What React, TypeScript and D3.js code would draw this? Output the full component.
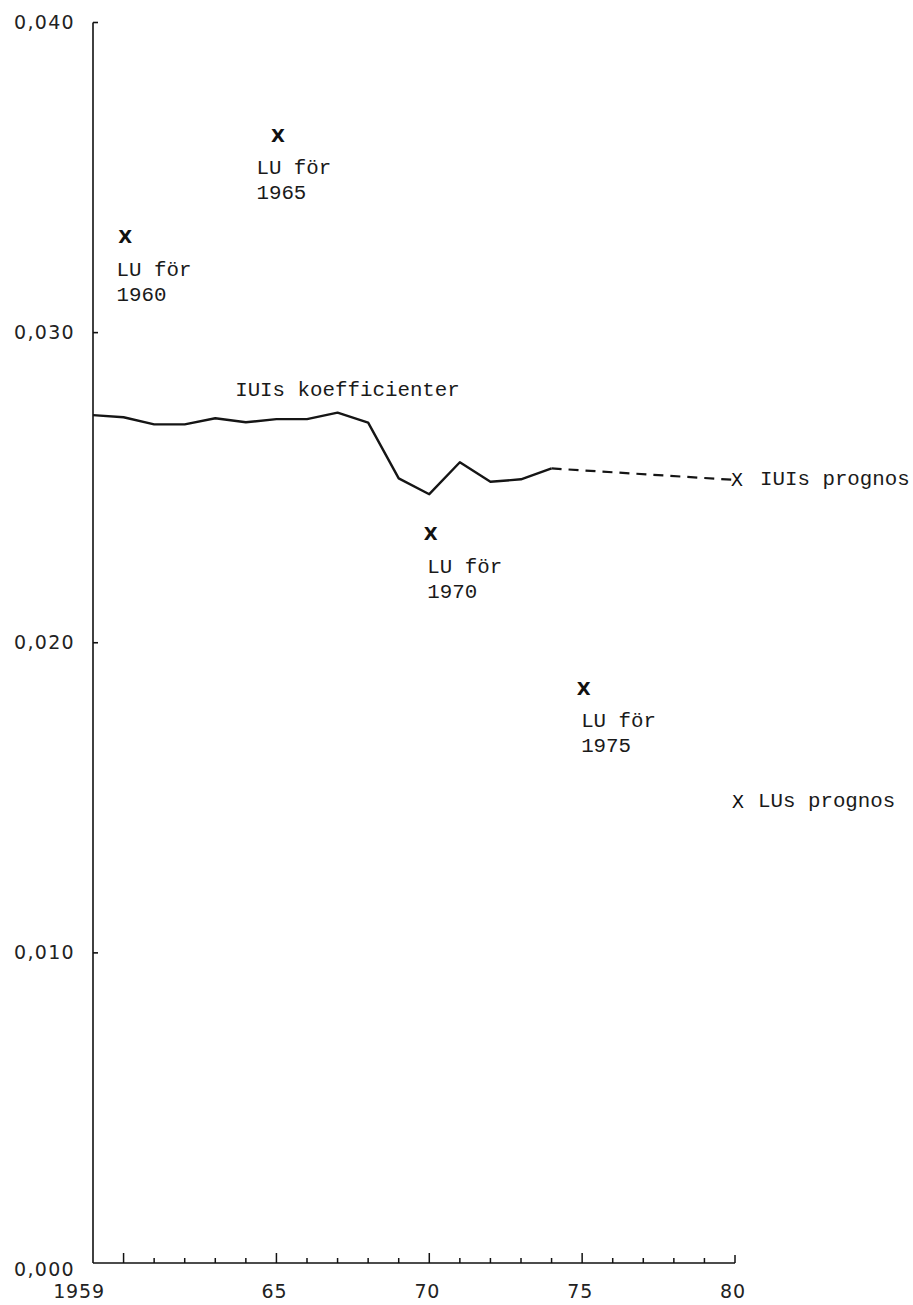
import React from "react";
import * as d3 from "d3";

// IUI coefficients (solid line), 1959-1974
const iuiYears = [1959, 1960, 1961, 1962, 1963, 1964, 1965, 1966, 1967, 1968, 1969, 1970, 1971, 1972, 1973, 1974];
const iuiValues = [0.02734, 0.02727, 0.02704, 0.02704, 0.02724, 0.02711, 0.02721, 0.02721, 0.02742, 0.0271, 0.0253, 0.02479, 0.02582, 0.02519, 0.02527, 0.02562];

// IUI forecast (dashed)
const forecastYears = [1974, 1980];
const forecastValues = [0.02562, 0.02525];

// LU points
const luYears = [1960, 1965, 1970, 1975];
const luValues = [0.03309, 0.03637, 0.02351, 0.01854];
const luLabels = ["1960", "1965", "1970", "1975"];
const luPrognosYear = 1980;
const luPrognosValue = 0.01487;

// Axis ticks
const yTicks = [0, 0.01, 0.02, 0.03, 0.04];
const yTickLabels = ["0,000", "0,010", "0,020", "0,030", "0,040"];
const xTickYears = d3.range(1960, 1981);
const xMajorYears = [1960, 1965, 1970, 1975, 1980];
const xLabelYears = [1959, 1965, 1970, 1975, 1980];
const xLabels = ["1959", "65", "70", "75", "80"];

// label layout offsets (px) for LU annotations
const luLabelDx = [-7, -20, -2, -1];

const W = 913;
const H = 1305;
const monoFont = "'Liberation Mono', 'DejaVu Sans Mono', monospace";
const tickFont = "'DejaVu Sans', sans-serif";
const markFont = "'DejaVu Sans', sans-serif";

export default function App() {
  const x = d3.scaleLinear().domain([1959, 1980]).range([93, 735]);
  const y = d3.scaleLinear().domain([0, 0.04]).range([1263, 22.5]);

  const line = d3
    .line<[number, number]>()
    .x((d) => x(d[0]))
    .y((d) => y(d[1]));

  const iuiPts: [number, number][] = iuiYears.map((yr, i) => [yr, iuiValues[i]]);
  const fcPts: [number, number][] = forecastYears.map((yr, i) => [yr, forecastValues[i]]);

  const x0 = x(1959);
  const yBase = y(0);

  return (
    <svg
      width={W}
      height={H}
      viewBox={`0 0 ${W} ${H}`}
      style={{ position: "absolute", left: 0, top: 0, background: "#fff" }}
    >
      <rect x={0} y={0} width={W} height={H} fill="#fff" />
      {/* Y axis */}
      <line x1={x0} x2={x0} y1={y(0.04)} y2={yBase} stroke="#111" strokeWidth={1.6} />
      {yTicks.map((t, i) => (
        <g key={"yt" + i}>
          {t > 0 && (
            <line x1={x0} x2={x0 + 5} y1={y(t)} y2={y(t)} stroke="#111" strokeWidth={1.6} />
          )}
          <text
            x={75}
            y={y(t) + (t === 0 ? 13 : 6.5)}
            textAnchor="end"
            fontFamily={tickFont}
            fontSize={19}
            letterSpacing={1.3}
            fill="#222"
          >
            {yTickLabels[i]}
          </text>
        </g>
      ))}
      {/* X axis */}
      <line x1={x0} x2={x(1980)} y1={yBase} y2={yBase} stroke="#111" strokeWidth={1.6} />
      {xTickYears.map((yr) => {
        const major = xMajorYears.includes(yr);
        const len = yr === 1980 ? 8 : major ? 10 : 5;
        return (
          <line
            key={"xt" + yr}
            x1={x(yr)}
            x2={x(yr)}
            y1={yBase}
            y2={yBase - len}
            stroke="#111"
            strokeWidth={1.5}
          />
        );
      })}
      {xLabelYears.map((yr, i) => (
        <text
          key={"xl" + yr}
          x={x(yr) + (yr === 1959 ? -14 : -2)}
          y={1298}
          textAnchor="middle"
          fontFamily={tickFont}
          fontSize={19}
          letterSpacing={0.8}
          fill="#222"
        >
          {xLabels[i]}
        </text>
      ))}

      {/* IUI coefficients line */}
      <path d={line(iuiPts) || ""} fill="none" stroke="#151515" strokeWidth={2.4} strokeLinejoin="round" />
      <path
        d={line(fcPts) || ""}
        fill="none"
        stroke="#151515"
        strokeWidth={2.2}
        strokeDasharray="10,7"
      />
      <text x={x(1963.65)} y={y(0.02796)} fontFamily={monoFont} fontSize={20.8} fill="#1a1a1a">
        IUIs koefficienter
      </text>

      {/* IUI forecast marker */}
      <text
        x={x(1980) + 2}
        y={y(forecastValues[1]) + 6.5}
        textAnchor="middle"
        fontFamily={markFont}
        fontSize={18}
        fill="#111"
      >
        X
      </text>
      <text x={x(1980) + 25} y={y(forecastValues[1]) + 5.5} fontFamily={monoFont} fontSize={20.8} fill="#1a1a1a">
        IUIs prognos
      </text>

      {/* LU markers */}
      {luYears.map((yr, i) => {
        const cx = x(yr) + 1.5;
        const cy = y(luValues[i]);
        const tx = x(yr) + luLabelDx[i];
        return (
          <g key={"lu" + yr}>
            <text
              x={cx}
              y={cy + 6.5}
              textAnchor="middle"
              fontFamily={markFont}
              fontWeight="bold"
              fontSize={18}
              fill="#111"
            >
              X
            </text>
            <text x={tx} y={cy + 39} fontFamily={monoFont} fontSize={20.8} fill="#1a1a1a">
              LU för
            </text>
            <text x={tx} y={cy + 64} fontFamily={monoFont} fontSize={20.8} fill="#1a1a1a">
              {luLabels[i]}
            </text>
          </g>
        );
      })}

      {/* LU forecast */}
      <text
        x={x(luPrognosYear) + 3}
        y={y(luPrognosValue) + 6.5}
        textAnchor="middle"
        fontFamily={markFont}
        fontSize={18}
        fill="#111"
      >
        X
      </text>
      <text x={x(luPrognosYear) + 23} y={y(luPrognosValue) + 5.5} fontFamily={monoFont} fontSize={20.8} fill="#1a1a1a">
        LUs prognos
      </text>
    </svg>
  );
}
